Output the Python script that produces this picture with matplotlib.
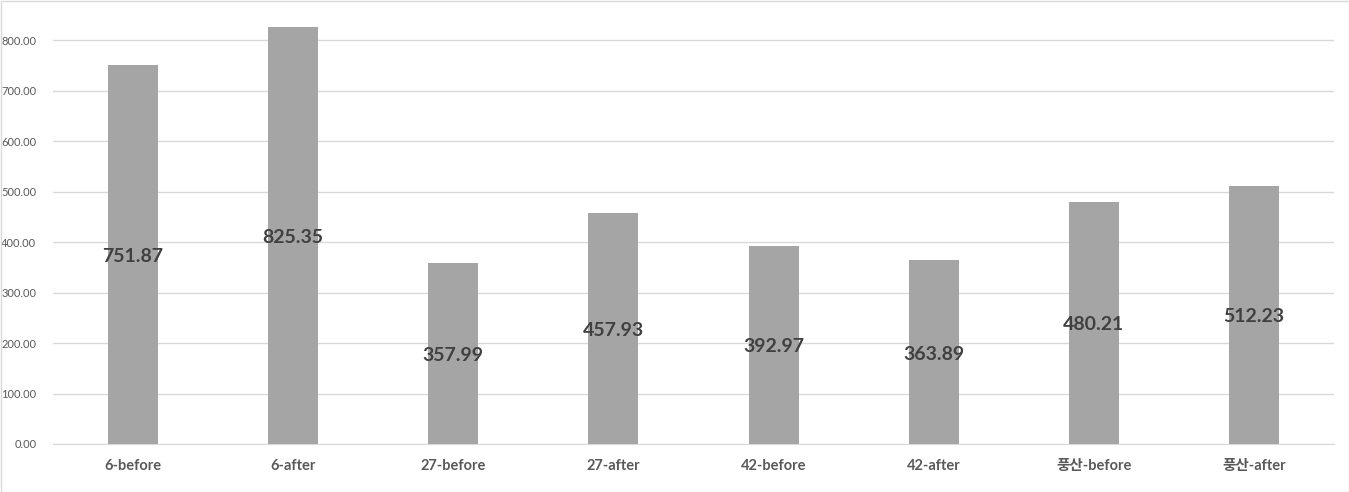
import matplotlib
matplotlib.use("Agg")
import matplotlib.pyplot as plt
from matplotlib.patches import Rectangle

categories = ["6-before", "6-after", "27-before", "27-after", "42-before", "42-after", "풍산-before", "풍산-after"]
values = [751.87, 825.35, 357.99, 457.93, 392.97, 363.89, 480.21, 512.23]
yticks = [0, 100, 200, 300, 400, 500, 600, 700, 800]

plt.rcParams['font.family'] = ['Lato', 'Noto Sans CJK KR', 'DejaVu Sans']

fig = plt.figure(figsize=(13.49, 4.92), dpi=100)
fig.patches.append(Rectangle((0.5/1349, 0.5/492), 1 - 1/1349, 1 - 1/492, transform=fig.transFigure,
                             fill=False, edgecolor='#D9D9D9', linewidth=1))
ax = fig.add_axes([53/1349, 1 - 444/492, (1334 - 53)/1349, (444 - 10)/492])

x = list(range(len(categories)))
ax.bar(x, values, width=0.3125, color='#A5A5A5', zorder=3)
for xi, v in zip(x, values):
    ax.annotate(f"{v:.2f}", (xi, v / 2), xytext=(0, -2), textcoords='offset pixels',
                ha='center', va='center', fontsize=14,
                fontweight='bold', color='#404040', zorder=4)

ax.set_xlim(-0.5, len(categories) - 0.5)
ax.set_ylim(0, 860)
ax.set_yticks(yticks)
ax.set_yticklabels([f"{t:.2f}" for t in yticks], fontsize=8, color='#595959')
ax.set_xticks(x)
ax.set_xticklabels(categories, fontsize=10.5, fontweight='bold', color='#595959')
ax.grid(axis='y', color='#D9D9D9', linewidth=1, zorder=0)
for s in ['top', 'right', 'left']:
    ax.spines[s].set_visible(False)
ax.spines['bottom'].set_color('#D9D9D9')
ax.tick_params(axis='both', length=0)
ax.tick_params(axis='x', pad=11)
ax.tick_params(axis='y', pad=12)

fig.savefig("out.png", dpi=100)
